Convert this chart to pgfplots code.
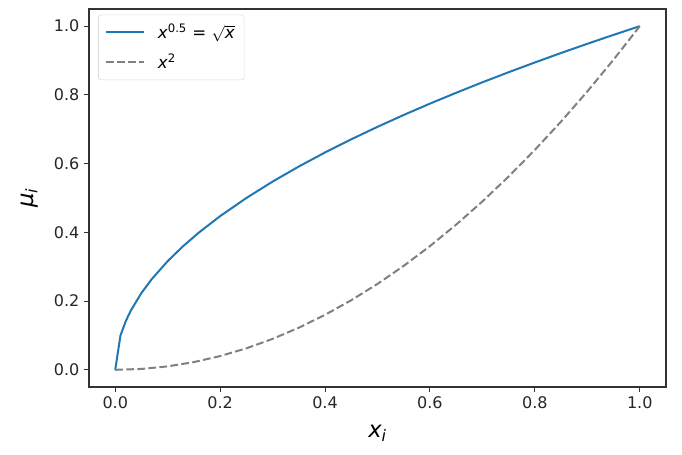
\documentclass[border=0pt]{standalone}
\usepackage{fontspec}
\setmainfont{DejaVu Sans}
\usepackage{pgfplots}
\pgfplotsset{compat=1.18}
\definecolor{mplblue}{HTML}{1F77B4}
\definecolor{mplgray}{HTML}{808080}

\begin{document}
\begin{tikzpicture}
\begin{axis}[
    scale only axis,
    width=432.75pt, height=283.5pt,
    xmin=-0.05, xmax=1.05,
    ymin=-0.05, ymax=1.05,
    xtick={0,0.2,0.4,0.6,0.8,1.0},
    ytick={0,0.2,0.4,0.6,0.8,1.0},
    xticklabel style={/pgf/number format/.cd, fixed, fixed zerofill, precision=1},
    yticklabel style={/pgf/number format/.cd, fixed, fixed zerofill, precision=1},
    /pgf/number format/assume math mode=true,
    tick label style={font=\fontsize{12}{14}\selectfont, color=black!85},
    tick align=outside,
    xtick pos=left, ytick pos=left,
    major tick length=3.75pt,
    axis line style={black!80, line width=0.8pt},
    every tick/.style={black!80, line width=0.8pt},
    xlabel={\textit{x\textsubscript{i}}},
    ylabel={\textit{μ\textsubscript{i}}},
    label style={font=\fontsize{17}{19}\selectfont},
    xlabel style={yshift=-5pt},
    ylabel style={yshift=5pt},
    legend cell align=left,
    legend image code/.code={\draw[#1] (0pt,0pt) -- (28pt,0pt); \path (36pt,0pt);},
    legend style={at={(0.016,0.985)}, anchor=north west,
        draw=black!15, rounded corners=2pt,
        font=\fontsize{12.5}{14}\selectfont,
        row sep=6pt, inner sep=5pt},
]

% sqrt curve
\addplot[color=mplblue, line width=1.5pt] coordinates {
    (0,0)(0.01,0.1)(0.02,0.1414)(0.03,0.1732)(0.05,0.2236)(0.07,0.2646)
    (0.1,0.3162)(0.13,0.3606)(0.16,0.4)(0.2,0.4472)(0.25,0.5)(0.3,0.5477)
    (0.35,0.5916)(0.4,0.6325)(0.45,0.6708)(0.5,0.7071)(0.55,0.7416)
    (0.6,0.7746)(0.65,0.8062)(0.7,0.8367)(0.75,0.8660)(0.8,0.8944)
    (0.85,0.9220)(0.9,0.9487)(0.95,0.9747)(1.0,1.0)
};
\addlegendentry{\textit{x}\textsuperscript{0.5} = $\sqrt{\mbox{\itshape x}}$}

% square curve
\addplot[color=mplgray, line width=1.5pt, dash pattern=on 5.8pt off 2.5pt] coordinates {
    (0,0)(0.05,0.0025)(0.1,0.01)(0.15,0.0225)(0.2,0.04)(0.25,0.0625)
    (0.3,0.09)(0.35,0.1225)(0.4,0.16)(0.45,0.2025)(0.5,0.25)(0.55,0.3025)
    (0.6,0.36)(0.65,0.4225)(0.7,0.49)(0.75,0.5625)(0.8,0.64)(0.85,0.7225)
    (0.9,0.81)(0.95,0.9025)(1.0,1.0)
};
\addlegendentry{\textit{x}\textsuperscript{2}}

\end{axis}
\path (current axis.south west) ++(-66.75pt,-51pt) coordinate (bbsw);
\path (current axis.north east) ++(12pt,6.75pt) coordinate (bbne);
\path[use as bounding box] (bbsw) rectangle (bbne);
\end{tikzpicture}
\end{document}
